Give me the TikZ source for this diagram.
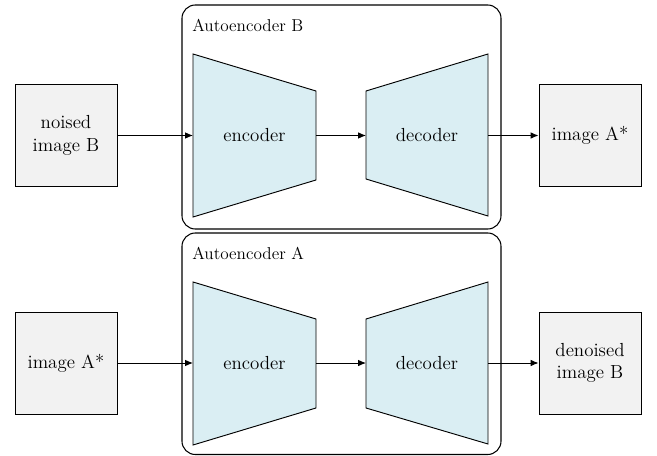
\documentclass[tikz,border=0pt]{standalone}
\usetikzlibrary{arrows.meta}
\definecolor{boxgray}{HTML}{F2F2F2}
\definecolor{netblue}{HTML}{DAEEF3}
\begin{document}
\begin{tikzpicture}[x=0.75pt,y=-0.75pt,
  imgbox/.style={draw, line width=0.7pt, fill=boxgray, minimum width=76.5pt, minimum height=76.5pt, inner sep=0pt, align=center, font=\rmfamily\fontsize{14.2}{17}\selectfont},
  aebox/.style={draw, line width=0.8pt, rounded corners=10pt},
  aelabel/.style={anchor=west, inner sep=0pt, font=\rmfamily\fontsize{12.9}{15}\selectfont},
  netshape/.style={draw, line width=0.7pt, fill=netblue},
  nettext/.style={inner sep=0pt, font=\rmfamily\fontsize{14.2}{17}\selectfont},
  conn/.style={line width=0.7pt, -{Latex[length=6pt,width=5pt]}}]
\useasboundingbox (0,0) rectangle (657,456);

% ---------- top row: Autoencoder B ----------
\draw[aebox] (182,5) rectangle (501,229);
\node[aelabel] (labB) at (192,25) {Autoencoder B};
\draw[netshape] (193,54) -- (316,91) -- (316,180) -- (193,217) -- cycle;
\draw[netshape] (366,91) -- (488,54) -- (488,216) -- (366,179) -- cycle;
\coordinate (encBin) at (193,135.5);
\coordinate (encBout) at (316,135.5);
\coordinate (decBin) at (366,135.5);
\coordinate (decBout) at (488,135.5);
\node[nettext] (encB) at (254.5,135.5) {encoder};
\node[nettext] (decB) at (427,135.5) {decoder};
\node[imgbox] (inB) at (66,135.5) {noised\\image B};
\node[imgbox] (outB) at (590,135.5) {image A*};
\draw[conn] (inB.east) -- (encBin);
\draw[conn] (encBout) -- (decBin);
\draw[conn] (decBout) -- (outB.west);

% ---------- bottom row: Autoencoder A ----------
\draw[aebox] (182,233) rectangle (501,454.5);
\node[aelabel] (labA) at (192,253) {Autoencoder A};
\draw[netshape] (193,282) -- (316,319) -- (316,408) -- (193,445) -- cycle;
\draw[netshape] (366,319) -- (488,282) -- (488,444) -- (366,408) -- cycle;
\coordinate (encAin) at (193,363);
\coordinate (encAout) at (316,363);
\coordinate (decAin) at (366,363);
\coordinate (decAout) at (488,363);
\node[nettext] (encA) at (254.5,363) {encoder};
\node[nettext] (decA) at (427,363) {decoder};
\node[imgbox] (inA) at (66,363) {image A*};
\node[imgbox] (outA) at (590,363) {denoised\\image B};
\draw[conn] (inA.east) -- (encAin);
\draw[conn] (encAout) -- (decAin);
\draw[conn] (decAout) -- (outA.west);
\end{tikzpicture}
\end{document}
